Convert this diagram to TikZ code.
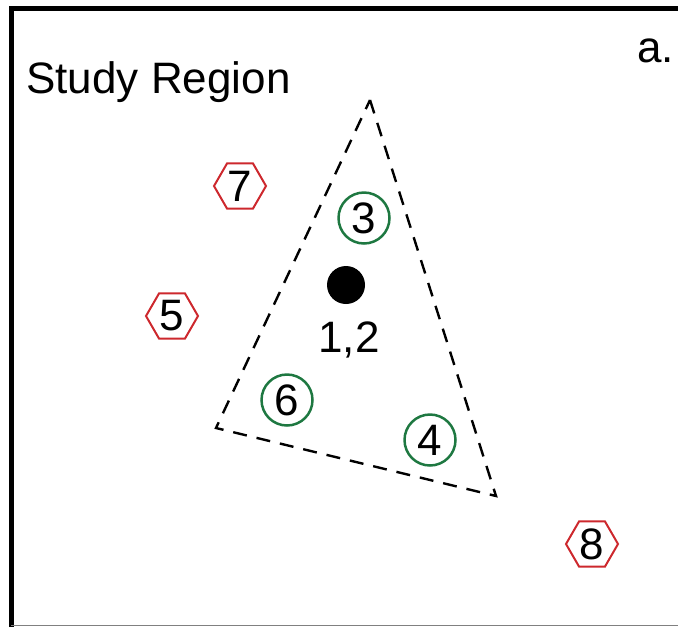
\documentclass[tikz,border=0pt]{standalone}
\usepackage{fontspec}
\setmainfont{Liberation Sans}
\usetikzlibrary{shapes.geometric}
\definecolor{sitegreen}{RGB}{30,120,65}
\definecolor{sitered}{RGB}{205,40,45}

\begin{document}
\begin{tikzpicture}[x=0.5pt, y=-0.5pt,
        lbl/.style={font=\fontsize{22}{26}\selectfont, inner sep=0pt},
        insite/.style={lbl, circle, draw=sitegreen, line width=1.25pt, minimum size=25.5pt},
        outsite/.style={lbl, regular polygon, regular polygon sides=6, draw=sitered, line width=1pt, minimum size=26pt}]
        \useasboundingbox (0,0) rectangle (678,627);
        \draw[line width=2.5pt] (11,627) -- (11,8) -- (678,8);
        \draw[gray, line width=0.8pt] (11,625.5) -- (678,625.5);
        \node[lbl, anchor=base west] (title) at (26,93) {Study Region};
        \node[lbl, anchor=base west] (panel) at (637,62) {a.};
        % triangle round the sites
        \coordinate (top) at (370,100);
        \coordinate (left) at (216,428);
        \coordinate (right) at (496,496);
        \draw[dashed, dash pattern=on 7pt off 5pt, line width=1.2pt] (top) -- (right) -- (left) -- cycle;
        \node[circle, fill=black, minimum size=19pt, inner sep=0pt] (dot) at (346,285) {};
        \node[lbl, anchor=base] (dotlbl) at (349,352) {1,2};
        \node[insite] (s3) at (364,218) {3};
        \node[insite] (s6) at (287,400) {6};
        \node[insite] (s4) at (430,440) {4};
        \node[outsite] (s7) at (240,186) {7};
        \node[outsite] (s5) at (172,316) {5};
        \node[outsite] (s8) at (592,544) {8};
    \end{tikzpicture}
\end{document}
